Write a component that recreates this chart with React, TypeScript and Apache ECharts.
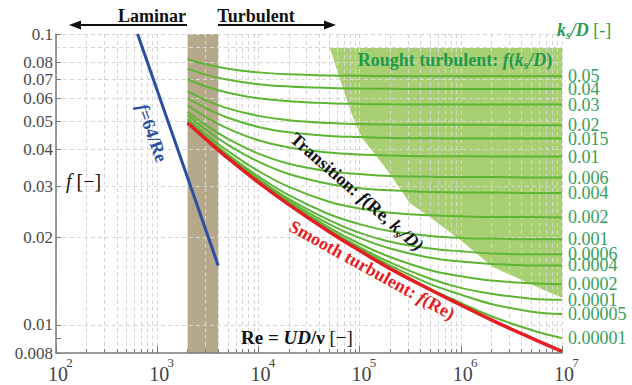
import React, { useEffect, useRef } from 'react';
import * as echarts from 'echarts';

// Reynolds numbers at which the friction-factor curves were read
const reValues = [2000, 3000, 5000, 1e4, 2e4, 5e4, 1e5, 2e5, 5e5, 1e6, 2e6, 5e6, 1e7];

// Smooth turbulent curve f(Re)
const fSmooth = [0.0494, 0.0436, 0.0374, 0.0309, 0.0259, 0.0209, 0.018, 0.0156, 0.0132, 0.0117, 0.0104, 0.009, 0.0081];

// Transition curves f(Re, ks/D), one per relative roughness
const fRough005 = [0.0819, 0.0787, 0.076, 0.0738, 0.0727, 0.072, 0.0718, 0.0717, 0.0716, 0.0716, 0.0716, 0.0716, 0.0716];
const fRough004 = [0.076, 0.0725, 0.0696, 0.0672, 0.066, 0.0652, 0.0649, 0.0648, 0.0647, 0.0647, 0.0647, 0.0647, 0.0647];
const fRough003 = [0.0699, 0.0661, 0.0628, 0.0601, 0.0587, 0.0578, 0.0575, 0.0573, 0.0572, 0.0572, 0.0572, 0.0572, 0.0572];
const fRough002 = [0.0635, 0.0593, 0.0555, 0.0523, 0.0505, 0.0494, 0.049, 0.0488, 0.0487, 0.0487, 0.0487, 0.0486, 0.0486];
const fRough0015 = [0.0602, 0.0557, 0.0515, 0.0479, 0.0459, 0.0446, 0.0442, 0.0439, 0.0438, 0.0437, 0.0437, 0.0437, 0.0437];
const fRough001 = [0.0568, 0.0519, 0.0473, 0.0431, 0.0407, 0.0391, 0.0385, 0.0382, 0.038, 0.038, 0.0379, 0.0379, 0.0379];
const fRough0006 = [0.0539, 0.0487, 0.0436, 0.0388, 0.0358, 0.0337, 0.033, 0.0325, 0.0323, 0.0322, 0.0322, 0.0321, 0.0321];
const fRough0004 = [0.0525, 0.047, 0.0416, 0.0364, 0.033, 0.0305, 0.0295, 0.029, 0.0286, 0.0285, 0.0285, 0.0284, 0.0284];
const fRough0002 = [0.051, 0.0453, 0.0396, 0.0338, 0.0298, 0.0265, 0.0251, 0.0243, 0.0238, 0.0236, 0.0235, 0.0235, 0.0234];
const fRough0001 = [0.0502, 0.0444, 0.0385, 0.0324, 0.0279, 0.024, 0.0222, 0.021, 0.0202, 0.0199, 0.0198, 0.0197, 0.0197];
const fRough00006 = [0.0499, 0.0441, 0.0381, 0.0318, 0.0271, 0.0229, 0.0207, 0.0193, 0.0183, 0.0179, 0.0176, 0.0175, 0.0175];
const fRough00004 = [0.0498, 0.0439, 0.0378, 0.0315, 0.0267, 0.0222, 0.0199, 0.0183, 0.017, 0.0165, 0.0162, 0.016, 0.016];
const fRough00002 = [0.0496, 0.0437, 0.0376, 0.0312, 0.0263, 0.0216, 0.019, 0.0171, 0.0154, 0.0147, 0.0142, 0.0139, 0.0138];
const fRough00001 = [0.0495, 0.0436, 0.0375, 0.031, 0.0261, 0.0212, 0.0185, 0.0164, 0.0144, 0.0134, 0.0128, 0.0123, 0.0122];
const fRough000005 = [0.0495, 0.0436, 0.0374, 0.031, 0.026, 0.0211, 0.0183, 0.016, 0.0138, 0.0127, 0.0118, 0.0111, 0.0109];
const fRough000001 = [0.0494, 0.0436, 0.0374, 0.0309, 0.0259, 0.0209, 0.0181, 0.0157, 0.0133, 0.0119, 0.0107, 0.0096, 0.009];

const roughnessLabels = ['0.05', '0.04', '0.03', '0.02', '0.015', '0.01', '0.006', '0.004', '0.002', '0.001', '0.0006', '0.0004', '0.0002', '0.0001', '0.00005', '0.00001'];
const roughnessCurves = [fRough005, fRough004, fRough003, fRough002, fRough0015, fRough001, fRough0006, fRough0004, fRough0002, fRough0001, fRough00006, fRough00004, fRough00002, fRough00001, fRough000005, fRough000001];

// Laminar line f = 64/Re
const laminarRe = [640, 4000];
const laminarF = [0.1, 0.016];

// Transition band (Re)
const transitionBand = [2000, 4000];

// Rough turbulent zone outline
const roughZoneRe = [5.1e4, 6.25e4, 7.7e4, 9.2e4, 1.06e5, 1.87e5, 3.15e5, 4.96e5, 9.8e5, 2.08e6, 5.66e6, 1e7, 1e7];
const roughZoneF = [0.0895, 0.0717, 0.0574, 0.0487, 0.0439, 0.0341, 0.0262, 0.0235, 0.0196, 0.0158, 0.0135, 0.0124, 0.0895];

// Axis ticks
const xMajorTicks = [1e2, 1e3, 1e4, 1e5, 1e6, 1e7];
const xMajorExponents = ['2', '3', '4', '5', '6', '7'];
const xDecades = [1e2, 1e3, 1e4, 1e5, 1e6];
const xMultipliers = [2, 3, 4, 5, 6, 7, 8, 9];
const yTickValues = [0.008, 0.01, 0.02, 0.03, 0.04, 0.05, 0.06, 0.07, 0.08, 0.09, 0.1];
const yTickLabels = ['0.008', '0.01', '0.02', '0.03', '0.04', '0.05', '0.06', '0.07', '0.08', '0.09', '0.1'];
const yExtraTicks = [0.009];

const serif = 'Liberation Serif, serif';

const xMinorTicks: number[] = [];
xDecades.forEach((d) => xMultipliers.forEach((m) => xMinorTicks.push(m * d)));
const gridX = [...xMajorTicks, ...xMinorTicks];
const gridY = [...yExtraTicks, ...yTickValues.filter((v) => v !== 0.008)];

function majorIndex(v: number) {
  return xMajorTicks.findIndex((t) => Math.abs(Math.log10(t) - Math.log10(v)) < 1e-6);
}

function rich(fill: string, size: number) {
  const base = { fill, fontSize: size, fontFamily: serif, lineHeight: Math.round(size * 1.2) };
  return {
    n: { ...base },
    b: { ...base, fontWeight: 'bold' },
    i: { ...base, fontStyle: 'italic' },
    bi: { ...base, fontWeight: 'bold', fontStyle: 'italic' },
    s: { fill, fontSize: Math.round(size * 0.65), fontFamily: serif, fontWeight: 'bold', fontStyle: 'italic', lineHeight: Math.round(size * 0.65), verticalAlign: 'bottom' },
  };
}

function buildOption(): any {
  const greenSeries = roughnessCurves.map((curve, k) => ({
    type: 'line',
    name: roughnessLabels[k],
    data: reValues.map((re, i) => [re, curve[i]]),
    smooth: 0.4,
    symbol: 'none',
    showSymbol: false,
    silent: true,
    z: 3,
    lineStyle: { color: '#5db534', width: 2 },
    endLabel: {
      show: true,
      formatter: roughnessLabels[k],
      color: '#38a05c',
      fontFamily: serif,
      fontSize: 18,
      lineHeight: 11,
      distance: 6,
    },
  }));

  const logX = { type: 'log', logBase: 10, min: 100, max: 1e7, z: 6, position: 'bottom', splitLine: { show: false } };

  return {
    animation: false,
    backgroundColor: '#ffffff',
    grid: { left: 56, right: 70, top: 34, bottom: 32, containLabel: false, outerBoundsMode: 'none' },
    xAxis: [
      {
        ...logX,
        axisLine: { show: true, onZero: false, lineStyle: { color: '#7a7a7a', width: 1.5 } },
        axisTick: { show: true, inside: true, length: 7, lineStyle: { color: '#7a7a7a', width: 1 } },
        axisLabel: {
          show: true,
          margin: 13,
          formatter: (v: number) => (majorIndex(v) >= 0 ? '10' : ''),
          fontSize: 20,
          lineHeight: 16,
          padding: [0, 0, 0, 4],
          fontFamily: serif,
          color: '#444',
        },
      },
      {
        ...logX,
        axisLine: { show: false, onZero: false },
        axisTick: { show: true, inside: true, length: 4, customValues: xMinorTicks, lineStyle: { color: '#7a7a7a', width: 1 } },
        axisLabel: { show: false },
      },
      {
        ...logX,
        axisLine: { show: false, onZero: false },
        axisTick: { show: false },
        axisLabel: {
          show: true,
          margin: 4,
          formatter: (v: number) => {
            const idx = majorIndex(v);
            return idx >= 0 ? xMajorExponents[idx] : '';
          },
          fontSize: 13,
          lineHeight: 10,
          padding: [0, 0, 0, 27],
          fontFamily: serif,
          color: '#444',
        },
      },
    ],
    yAxis: [
      {
        type: 'log',
        logBase: 10,
        min: 0.008,
        max: 0.1,
        z: 6,
        axisLine: { show: true, onZero: false, lineStyle: { color: '#7a7a7a', width: 1.5 } },
        axisTick: { show: true, inside: true, length: 5, customValues: [...yTickValues, ...yExtraTicks], lineStyle: { color: '#7a7a7a', width: 1 } },
        axisLabel: {
          show: true,
          margin: 3,
          customValues: yTickValues,
          showMinLabel: true,
          showMaxLabel: true,
          formatter: (v: number) => {
            const idx = yTickValues.findIndex((t) => Math.abs(t - v) < 1e-9);
            return idx >= 0 ? yTickLabels[idx] : '';
          },
          fontSize: 17,
          lineHeight: 12,
          fontFamily: serif,
          color: '#4a4a4a',
        },
        splitLine: { show: false },
      },
    ],
    series: [
      {
        type: 'custom',
        name: 'rough zone',
        coordinateSystem: 'cartesian2d',
        silent: true,
        z: 1,
        clip: false,
        data: [[roughZoneRe[0], roughZoneF[0]]],
        renderItem: (_params: any, api: any) => ({
          type: 'polygon',
          shape: { points: roughZoneRe.map((re, i) => api.coord([re, roughZoneF[i]])) },
          style: { fill: '#a9cf73' },
        }),
      },
      {
        type: 'line',
        name: 'grid',
        data: [[100, 0.1]],
        symbol: 'none',
        showSymbol: false,
        silent: true,
        lineStyle: { opacity: 0 },
        z: 2,
        markArea: {
          silent: true,
          z: 1,
          itemStyle: { color: '#b5a88b' },
          data: [[{ xAxis: transitionBand[0] }, { xAxis: transitionBand[1] }]],
        },
        markLine: {
          silent: true,
          z: 2,
          symbol: ['none', 'none'],
          label: { show: false },
          emphasis: { disabled: true },
          lineStyle: { type: [4, 3], color: '#d6d6d6', width: 1 },
          data: [...gridX.map((v) => ({ xAxis: v })), ...gridY.map((v) => ({ yAxis: v }))],
        },
      },
      ...greenSeries,
      {
        type: 'line',
        name: 'smooth',
        data: reValues.map((re, i) => [re, fSmooth[i]]),
        smooth: 0.4,
        symbol: 'none',
        showSymbol: false,
        silent: true,
        z: 4,
        lineStyle: { color: '#e31e24', width: 3.5 },
      },
      {
        type: 'line',
        name: 'laminar',
        data: laminarRe.map((re, i) => [re, laminarF[i]]),
        symbol: 'none',
        showSymbol: false,
        silent: true,
        z: 4,
        lineStyle: { color: '#2b4ea2', width: 3 },
      },
    ],
    graphic: [
      { type: 'text', z: 20, x: 152, y: 16, style: { text: 'Laminar', font: `bold 18px ${serif}`, fill: '#111', align: 'center', verticalAlign: 'middle' } },
      { type: 'text', z: 20, x: 256, y: 16, style: { text: 'Turbulent', font: `bold 18px ${serif}`, fill: '#111', align: 'center', verticalAlign: 'middle' } },
      { type: 'line', z: 20, shape: { x1: 78, y1: 25, x2: 187, y2: 25 }, style: { stroke: '#111', lineWidth: 2 } },
      { type: 'polygon', z: 20, shape: { points: [[69, 25], [81, 20.5], [81, 29.5]] }, style: { fill: '#111' } },
      { type: 'line', z: 20, shape: { x1: 218, y1: 25, x2: 327, y2: 25 }, style: { stroke: '#111', lineWidth: 2 } },
      { type: 'polygon', z: 20, shape: { points: [[336, 25], [324, 20.5], [324, 29.5]] }, style: { fill: '#111' } },
      {
        type: 'text', z: 20, x: 557, y: 30,
        style: { text: '{bi|k}{s|s}{bi|/D}{n| [-]}', rich: rich('#2a9a50', 18), align: 'left', verticalAlign: 'middle' },
      },
      {
        type: 'text', z: 20, x: 455, y: 60,
        style: { text: '{b|Rought turbulent: }{bi|f}{b|(}{bi|k}{s|s}{bi|/D}{b|)}', rich: rich('#1f9a4a', 18), align: 'center', verticalAlign: 'middle' },
      },
      {
        type: 'text', z: 20, x: 152, y: 133, rotation: -70.5 * Math.PI / 180,
        style: { text: '{bi|f}{b|=64/Re}', rich: rich('#2b4ea2', 18), align: 'center', verticalAlign: 'middle' },
      },
      {
        type: 'text', z: 20, x: 66, y: 181,
        style: { text: '{i|f}{n| [−]}', rich: rich('#111', 20), align: 'left', verticalAlign: 'middle' },
      },
      {
        type: 'text', z: 20, x: 357, y: 192, rotation: -41 * Math.PI / 180,
        style: { text: '{b|Transition: }{bi|f}{b|(Re, }{bi|k}{s|s}{bi|/D)}', rich: rich('#111', 18), align: 'center', verticalAlign: 'middle' },
      },
      {
        type: 'text', z: 20, x: 372, y: 270, rotation: -29 * Math.PI / 180,
        style: { text: '{b|Smooth turbulent: }{bi|f}{b|(Re)}', rich: rich('#e31e24', 18), align: 'center', verticalAlign: 'middle' },
      },
      {
        type: 'text', z: 20, x: 241, y: 337,
        style: { text: '{b|Re = }{bi|UD}{b|/ν }{n|[−]}', rich: rich('#111', 19), align: 'left', verticalAlign: 'middle' },
      },
    ],
  };
}

export default function App() {
  const ref = useRef<HTMLDivElement>(null);
  useEffect(() => {
    if (!ref.current) return;
    const chart = echarts.init(ref.current, null, { renderer: 'svg' });
    chart.setOption(buildOption());
    return () => chart.dispose();
  }, []);
  return (
    <div
      ref={ref}
      style={{ position: 'fixed', left: 0, top: 0, width: 632, height: 385, background: '#fff' }}
    />
  );
}
